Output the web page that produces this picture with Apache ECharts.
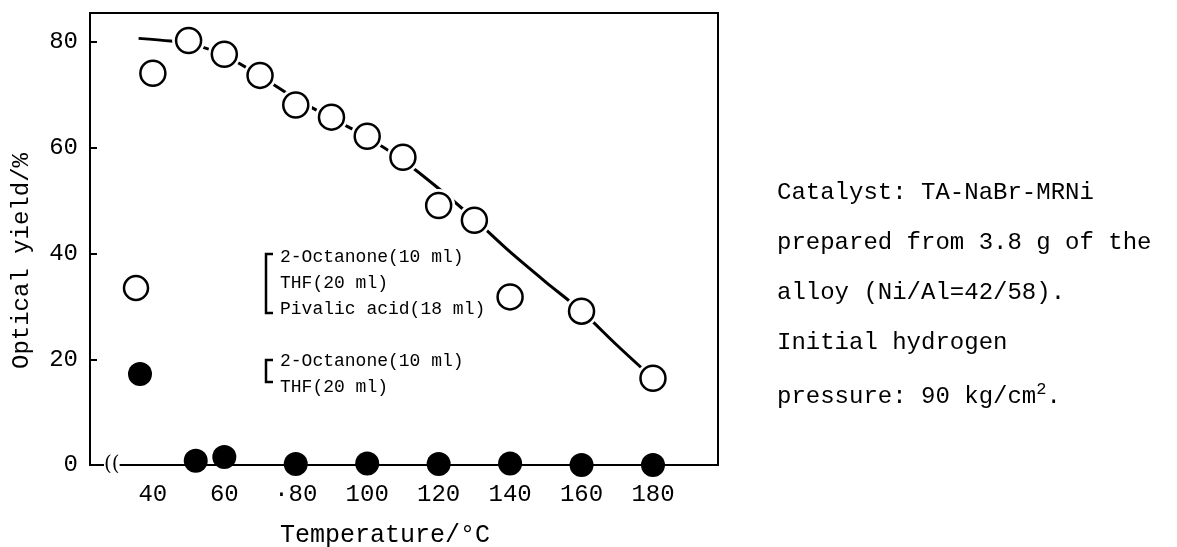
<!DOCTYPE html>
<html>
<head>
<meta charset="utf-8">
<script src="https://cdn.jsdelivr.net/npm/echarts@6/dist/echarts.min.js"></script>
<style>
  html, body { margin: 0; padding: 0; background: #fff; }
  #chart { width: 1177px; height: 547px; }
</style>
</head>
<body>
<div id="chart"></div>
<script>
// open circles: 2-octanone + THF + pivalic acid
const openTemp = [40, 50, 60, 70, 80, 90, 100, 110, 120, 130, 140, 160, 180]
const openYield = [74.1, 80.3, 77.7, 73.7, 68.1, 65.8, 62.2, 58.2, 49.1, 46.3, 31.8, 29.1, 16.4]

// filled circles: 2-octanone + THF only
const fillTemp = [52, 60, 80, 100, 120, 140, 160, 180]
const fillYield = [0.8, 1.5, 0.2, 0.3, 0.2, 0.3, 0, 0]

// hand drawn curve through the open circles
const curveTemp = [36, 45, 50, 60, 70, 80, 90, 100, 110, 120, 130, 140, 150, 160, 170, 180]
const curveYield = [80.7, 80.2, 79.8, 77.5, 73.6, 69.3, 65.6, 62.0, 57.6, 52.3, 46.5, 40.3, 34.6, 29.1, 22.6, 16.4]

const xTicks = [40, 60, 80, 100, 120, 140, 160, 180]
const xTickText = ['40', '60', '·80', '100', '120', '140', '160', '180']

const noteLines = [
  'Catalyst: TA-NaBr-MRNi',
  'prepared from 3.8 g of the',
  'alloy (Ni/Al=42/58).',
  'Initial hydrogen',
  'pressure: 90 kg/cm{sup|2}.'
]

const FONT = '"Liberation Mono", "DejaVu Sans Mono", monospace'
const zip = (a, b) => a.map((v, i) => [v, b[i]])

const chart = echarts.init(document.getElementById('chart'))

const legendText = (text, x, y) => ({
  type: 'text', left: x, top: y - 11,
  style: { text: text, font: '18px ' + FONT, fill: '#000' }
})

const option = {
  animation: false,
  backgroundColor: '#fff',
  grid: {
    left: 90, right: 459, top: 13, bottom: 82,
    outerBoundsMode: 'none',
    containLabel: false,
    show: true, borderColor: '#000', borderWidth: 2
  },
  xAxis: {
    type: 'value',
    min: 22.4,
    max: 198.2,
    name: 'Temperature/°C',
    nameLocation: 'middle',
    nameGap: 58,
    nameTextStyle: { fontFamily: FONT, fontSize: 25, color: '#000', padding: [0, 38, 0, 0] },
    axisLine: { lineStyle: { color: '#000', width: 2 } },
    axisTick: { show: false },
    splitLine: { show: false },
    axisLabel: {
      customValues: xTicks,
      margin: 18,
      fontFamily: FONT,
      fontSize: 24,
      color: '#000',
      formatter: v => xTickText[xTicks.indexOf(v)] || ''
    }
  },
  yAxis: {
    type: 'value',
    min: 0,
    max: 85.5,
    interval: 20,
    name: 'Optical yield/%',
    nameLocation: 'middle',
    nameGap: 56,
    nameTextStyle: { fontFamily: FONT, fontSize: 24, color: '#000', padding: [0, 44, 0, 0] },
    axisLine: { show: true, lineStyle: { color: '#000', width: 2 } },
    axisTick: { show: true, inside: true, length: 7, lineStyle: { color: '#000', width: 2 } },
    splitLine: { show: false },
    axisLabel: {
      showMaxLabel: false,
      margin: 12,
      fontFamily: FONT,
      fontSize: 24,
      color: '#000'
    }
  },
  series: [
    {
      type: 'line',
      data: zip(curveTemp, curveYield),
      smooth: 0.3,
      showSymbol: false,
      lineStyle: { color: '#000', width: 3 },
      z: 1,
      silent: true
    },
    {
      // white halo so the curve stops short of each circle
      type: 'scatter',
      data: zip(openTemp, openYield),
      symbolSize: 33,
      itemStyle: { color: '#fff', opacity: 1 },
      z: 2,
      clip: false,
      silent: true
    },
    {
      type: 'scatter',
      data: zip(openTemp, openYield),
      symbolSize: 25,
      itemStyle: { color: '#fff', borderColor: '#000', borderWidth: 2.5, opacity: 1 },
      z: 3,
      clip: false
    },
    {
      type: 'scatter',
      data: zip(fillTemp, fillYield),
      symbolSize: 24,
      itemStyle: { color: '#000', opacity: 1 },
      z: 3,
      clip: false
    }
  ],
  graphic: [
    // axis break mark
    {
      type: 'text', left: 104, top: 455, z: 10,
      style: { text: '((', font: '20px "DejaVu Serif", serif', fill: '#000', backgroundColor: '#fff' }
    },
    // legend, open circles
    { type: 'circle', shape: { cx: 136, cy: 288, r: 12 }, style: { fill: '#fff', stroke: '#000', lineWidth: 2.5 } },
    { type: 'polyline', shape: { points: [[273, 254], [266, 254], [266, 313], [273, 313]] }, style: { stroke: '#000', lineWidth: 2.5, fill: null } },
    legendText('2-Octanone(10 ml)', 280, 259),
    legendText('THF(20 ml)', 280, 285),
    legendText('Pivalic acid(18 ml)', 280, 311),
    // legend, filled circles
    { type: 'circle', shape: { cx: 140, cy: 374, r: 12 }, style: { fill: '#000' } },
    { type: 'polyline', shape: { points: [[273, 360], [266, 360], [266, 382], [273, 382]] }, style: { stroke: '#000', lineWidth: 2.5, fill: null } },
    legendText('2-Octanone(10 ml)', 280, 363),
    legendText('THF(20 ml)', 280, 389),
    // note on the right
    ...noteLines.map((t, i) => ({
      type: 'text', left: 777, top: 181 + i * 50,
      style: {
        text: t, font: '24px ' + FONT, fill: '#000',
        rich: { sup: { fontFamily: FONT, fontSize: 17, verticalAlign: 'top', padding: [0, 0, 14, 0] } }
      }
    }))
  ]
}

chart.setOption(option)
</script>
</body>
</html>
